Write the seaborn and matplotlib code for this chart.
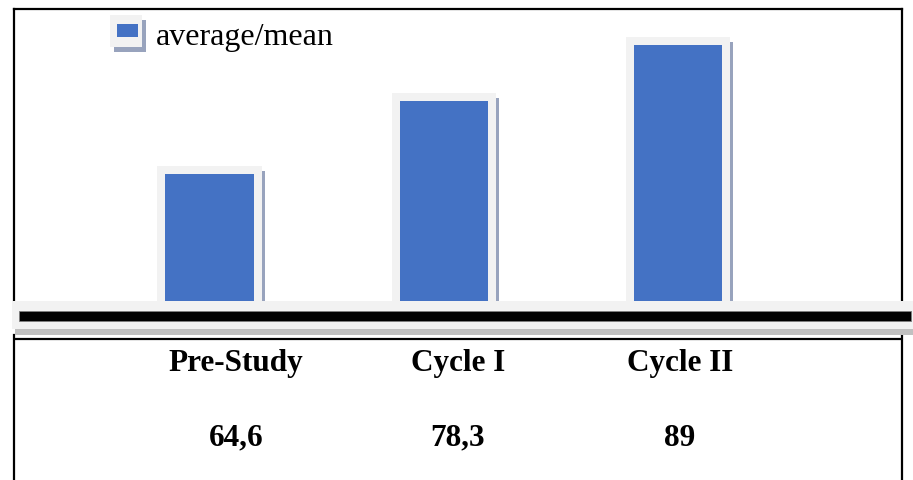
import numpy as np
import pandas as pd
import matplotlib
matplotlib.use('Agg')
import matplotlib.pyplot as plt
import seaborn as sns
from matplotlib.patches import Rectangle
from matplotlib.transforms import IdentityTransform
from matplotlib.legend_handler import HandlerBase
from matplotlib.container import BarContainer

# =========================================================
# DATA
# =========================================================
stages = ['Pre-Study', 'Cycle I', 'Cycle II']
means = [64.6, 78.3, 89]
series_name = 'average/mean'

BLUE = '#4472C4'
FRAME = '#F2F2F2'
SHADOW = '#98A3BD'

W, H = 913, 481

sns.set_theme(style='white')
plt.rcParams['font.family'] = ['Liberation Serif', 'DejaVu Serif']
plt.rcParams['text.color'] = 'black'


def fr(x0, y0, x1, y1):
    """pixel box (origin top-left) -> figure fraction [l, b, w, h]"""
    return [x0 / W, 1 - y1 / H, (x1 - x0) / W, (y1 - y0) / H]


class FramedHandler(HandlerBase):
    """legend key: blue swatch on a light frame with a drop shadow"""
    def create_artists(self, legend, orig_handle, xdescent, ydescent,
                       width, height, fontsize, trans):
        x0, y0 = -xdescent, -ydescent
        sx, sy = 0.11 * width, 0.125 * height
        shadow = Rectangle((x0 + sx, y0), width - sx, height - sy,
                           fc=SHADOW, ec='none', transform=trans)
        frame = Rectangle((x0, y0 + sy), width - sx, height - sy,
                          fc=FRAME, ec='none', transform=trans)
        swatch = Rectangle((x0 + 0.19 * width, y0 + 0.41 * height),
                           0.59 * width, 0.34 * height,
                           fc=BLUE, ec='none', transform=trans)
        return [shadow, frame, swatch]


fig = plt.figure(figsize=(W / 100, H / 100), dpi=100)

# =========================================================
# BAR AREA
# =========================================================
ax = fig.add_axes(fr(14, 10, 902, 302))
df = pd.DataFrame({'stage': stages, 'mean': means})
sns.barplot(data=df, x='stage', y='mean', color=BLUE, saturation=1,
            width=0.377, linewidth=0, label=series_name, ax=ax, zorder=3)
ax.set_xlim(-0.835, 2.955)
ax.set_ylim(40.43, 95.8)
ax.set_xticks([])
ax.set_yticks([])
ax.set_xlabel('')
ax.set_ylabel('')
for side in ['left', 'top', 'right']:
    ax.spines[side].set_color('black')
    ax.spines[side].set_linewidth(1.6)
ax.spines['bottom'].set_visible(False)

# light frame + right-hand shadow behind each bar (pixel offsets)
for bar in list(ax.patches):
    (bx0, by0), (bx1, by1) = ax.transData.transform(
        [(bar.get_x(), bar.get_y()),
         (bar.get_x() + bar.get_width(), bar.get_y() + bar.get_height())])
    ax.add_patch(Rectangle((bx0 - 8, by0), bx1 - bx0 + 16, by1 - by0 + 8,
                           fc=FRAME, ec='none', zorder=1,
                           transform=IdentityTransform()))
    ax.add_patch(Rectangle((bx1 + 8, by0), 3, by1 - by0 + 3,
                           fc=SHADOW, ec='none', zorder=1,
                           transform=IdentityTransform()))

handles, labels = ax.get_legend_handles_labels()
ax.legend(handles, labels, handler_map={BarContainer: FramedHandler()},
          loc='upper left', bbox_to_anchor=(110 / W, 1 - 16 / H),
          bbox_transform=fig.transFigure, frameon=False, fontsize=23,
          handlelength=1.13, handleheight=1.4, handletextpad=0.3,
          borderpad=0, borderaxespad=0)

# =========================================================
# BASELINE (thick black line on a light band with shadow)
# =========================================================
for box, fc, ec in [((12, 302, 913, 330), FRAME, 'none'),
                    ((15, 330, 913, 336), '#C0C0C0', 'none'),
                    ((19, 312, 911, 322), 'black', '#7F7F7F')]:
    l, b, w, h = fr(*box)
    fig.add_artist(Rectangle((l, b), w, h, fc=fc, ec=ec, lw=0.6,
                             transform=fig.transFigure, zorder=5))

# =========================================================
# TABLE BELOW
# =========================================================
ax2 = fig.add_axes(fr(14, 336, 902, 481))
ax2.set_facecolor('none')
ax2.set_xlim(0, 1)
ax2.set_ylim(0, 1)
ax2.set_xticks([])
ax2.set_yticks([])
for side in ['top', 'bottom']:
    ax2.spines[side].set_visible(False)
for side in ['left', 'right']:
    ax2.spines[side].set_color('black')
    ax2.spines[side].set_linewidth(1.6)
ax2.axhline(1 - 4 / 145, color='black', lw=1.6)

cols = (np.arange(len(stages)) + 1) / (len(stages) + 1)
for xc, name, val in zip(cols, stages, means):
    ax2.text(xc, 0.81, name, ha='center', va='center', color='black',
             fontsize=22.5, fontweight='bold')
    ax2.text(xc, 0.295, f'{val:g}'.replace('.', ','), ha='center',
             va='center', color='black', fontsize=22.5, fontweight='bold')

fig.savefig('out.png', dpi=100)
